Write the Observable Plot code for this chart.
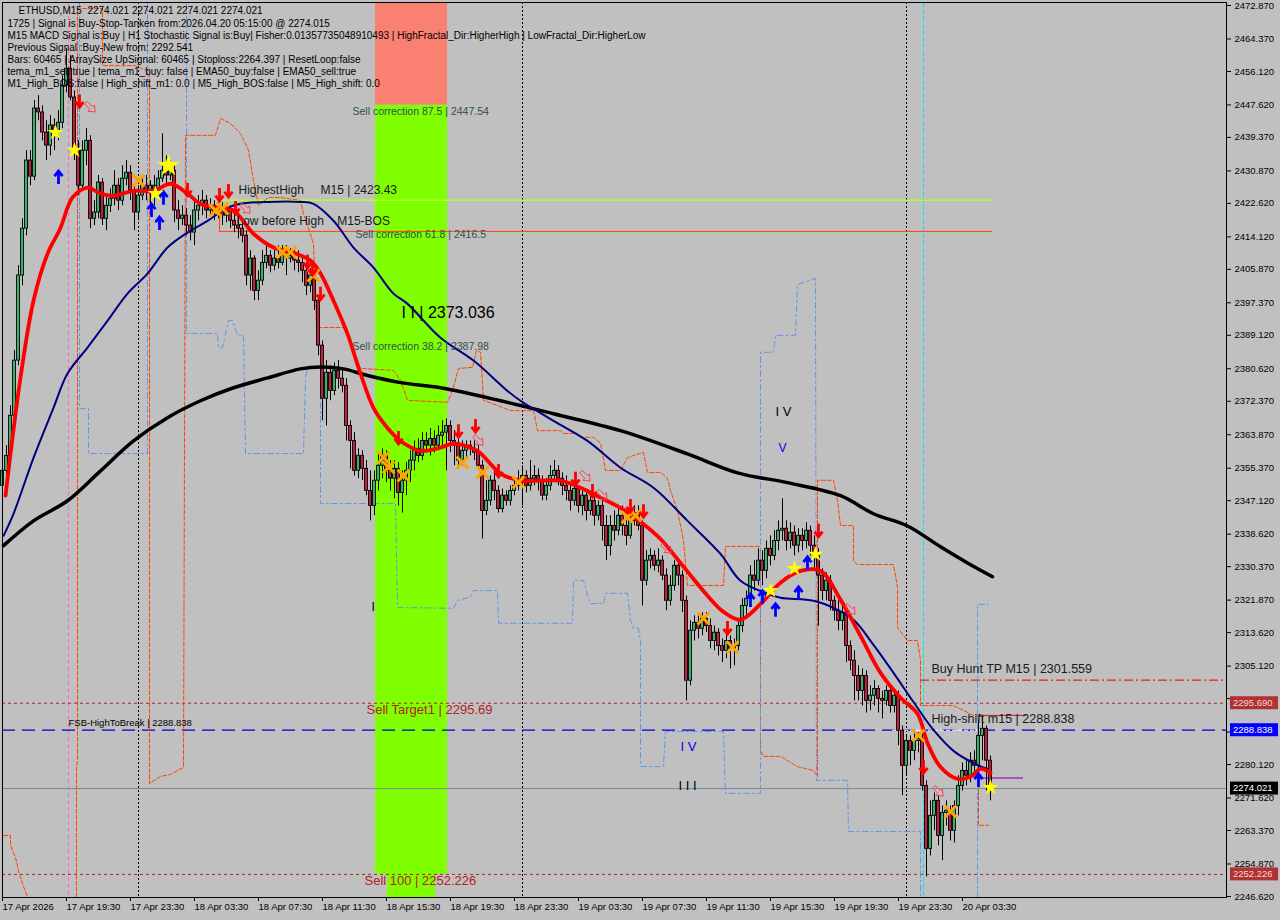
<!DOCTYPE html>
<html>
<head>
<meta charset="utf-8">
<script src="https://cdn.jsdelivr.net/npm/d3@7"></script>
<script src="https://cdn.jsdelivr.net/npm/@observablehq/plot@0.6"></script>
<style>
  html, body { margin: 0; padding: 0; background: #c0c0c0; }
  #chart { width: 1280px; height: 920px; }
</style>
</head>
<body>
<div id="chart"></div>
<script>
// ETHUSD M15 candles, bar index 0 = 17 Apr 2026 15:30, one bar per 15 minutes
const open = [
  2350.9, 2354.7, 2358.5, 2368.7, 2382.7, 2404.3, 2416.2, 2433.5, 2429.4, 2446.7,
  2445.7, 2440.6, 2437.3, 2442.4, 2440.6, 2443.1, 2452.5, 2456.8, 2449.5, 2436.0,
  2427.1, 2436.0, 2438.5, 2418.7, 2420.3, 2427.9, 2418.7, 2422.0, 2423.8, 2427.1,
  2423.3, 2428.9, 2430.4, 2425.9, 2420.3, 2424.6, 2427.1, 2425.9, 2427.1, 2425.9,
  2428.9, 2430.9, 2429.7, 2430.9, 2420.8, 2418.7, 2419.5, 2417.0, 2415.2, 2420.8,
  2422.0, 2423.3, 2420.8, 2422.0, 2420.3, 2421.3, 2419.5, 2420.8, 2418.2, 2417.0,
  2416.2, 2414.4, 2404.3, 2408.6, 2400.4, 2403.0, 2407.5, 2409.3, 2406.8, 2408.6,
  2407.5, 2410.1, 2408.6, 2409.3, 2408.1, 2407.5, 2405.5, 2401.7, 2404.3, 2397.9,
  2386.5, 2373.0, 2379.6, 2375.0, 2380.1, 2378.1, 2376.3, 2366.1, 2362.3, 2354.7,
  2358.5, 2355.2, 2349.6, 2345.8, 2352.2, 2356.0, 2358.5, 2354.7, 2352.7, 2355.2,
  2349.1, 2352.2, 2354.7, 2357.3, 2360.3, 2358.5, 2362.3, 2361.1, 2362.8, 2361.1,
  2363.6, 2364.4, 2366.1, 2362.3, 2361.1, 2357.3, 2359.8, 2361.1, 2360.3, 2359.3,
  2356.0, 2344.5, 2347.1, 2352.2, 2349.6, 2345.0, 2348.4, 2347.1, 2349.6, 2350.9,
  2352.2, 2353.4, 2350.9, 2352.7, 2353.4, 2352.2, 2348.4, 2350.9, 2353.4, 2354.7,
  2352.7, 2350.9, 2349.6, 2347.1, 2350.1, 2345.8, 2348.4, 2344.5, 2347.1, 2343.3,
  2345.8, 2340.7, 2335.6, 2340.7, 2339.5, 2343.3, 2340.7, 2338.2, 2342.0, 2344.0,
  2340.7, 2326.8, 2331.9, 2333.1, 2330.6, 2331.9, 2328.1, 2321.7, 2325.5, 2330.6,
  2328.1, 2321.7, 2301.4, 2314.1, 2316.1, 2314.6, 2317.1, 2315.3, 2311.5, 2313.6,
  2310.2, 2309.0, 2311.5, 2309.5, 2310.2, 2315.3, 2320.4, 2322.2, 2328.1, 2326.8,
  2331.9, 2329.3, 2334.9, 2333.1, 2336.9, 2339.5, 2340.0, 2336.9, 2339.0, 2335.7,
  2338.2, 2336.9, 2339.5, 2335.7, 2333.1, 2328.1, 2324.2, 2326.8, 2321.7, 2319.2,
  2316.6, 2318.7, 2310.2, 2306.5, 2302.6, 2298.8, 2302.6, 2296.3, 2297.6, 2299.3,
  2296.8, 2296.3, 2298.8, 2295.0, 2297.6, 2288.7, 2279.8, 2286.1, 2283.6, 2286.1,
  2286.6, 2274.7, 2258.7, 2267.1, 2270.9, 2262.0, 2267.8, 2268.4, 2263.3, 2269.6,
  2274.7, 2278.5, 2277.3, 2281.1, 2279.8, 2287.4, 2289.2, 2281.1
];
const high = [
  2356.8, 2361.1, 2371.2, 2385.2, 2406.8, 2418.7, 2436.0, 2436.0, 2448.7, 2450.0,
  2447.4, 2443.6, 2444.9, 2444.1, 2446.2, 2455.0, 2461.9, 2460.1, 2451.2, 2438.5,
  2438.5, 2441.6, 2439.8, 2423.3, 2429.7, 2428.9, 2424.6, 2426.3, 2430.9, 2428.9,
  2432.2, 2433.5, 2432.2, 2427.1, 2427.1, 2428.9, 2429.7, 2428.4, 2429.7, 2430.9,
  2440.3, 2434.7, 2433.5, 2432.2, 2423.3, 2422.0, 2421.3, 2419.5, 2423.3, 2424.6,
  2425.9, 2424.6, 2423.8, 2423.3, 2423.3, 2422.8, 2422.0, 2422.0, 2420.3, 2418.7,
  2418.2, 2415.7, 2410.6, 2409.3, 2405.5, 2410.6, 2411.9, 2410.6, 2410.6, 2411.9,
  2411.9, 2411.9, 2411.1, 2411.1, 2410.6, 2409.3, 2407.5, 2406.0, 2405.5, 2399.2,
  2387.7, 2382.7, 2381.4, 2382.1, 2382.7, 2380.6, 2378.1, 2367.4, 2364.4, 2360.3,
  2359.8, 2357.3, 2354.7, 2354.7, 2359.3, 2360.3, 2359.8, 2357.3, 2357.3, 2356.8,
  2354.7, 2356.8, 2359.8, 2362.3, 2362.8, 2364.4, 2364.4, 2365.4, 2364.9, 2366.1,
  2367.4, 2367.9, 2367.4, 2364.9, 2362.8, 2362.3, 2362.3, 2362.3, 2362.3, 2361.1,
  2357.3, 2352.2, 2353.4, 2354.7, 2350.9, 2350.1, 2349.6, 2350.9, 2352.7, 2354.7,
  2356.0, 2354.7, 2357.3, 2356.0, 2355.2, 2353.4, 2352.7, 2356.0, 2357.3, 2356.0,
  2354.2, 2353.4, 2351.7, 2352.2, 2350.9, 2349.6, 2349.6, 2348.4, 2348.4, 2347.1,
  2347.1, 2343.3, 2343.3, 2344.5, 2345.8, 2345.8, 2343.3, 2344.5, 2345.8, 2345.8,
  2342.0, 2334.4, 2334.9, 2334.4, 2334.9, 2333.1, 2329.8, 2328.1, 2331.9, 2331.9,
  2329.3, 2322.9, 2316.6, 2317.9, 2317.9, 2318.7, 2318.7, 2317.1, 2315.3, 2314.6,
  2312.0, 2313.6, 2312.8, 2312.0, 2317.1, 2322.2, 2324.2, 2330.6, 2331.9, 2334.9,
  2334.4, 2336.9, 2338.2, 2339.5, 2342.0, 2347.6, 2342.0, 2341.5, 2340.7, 2340.0,
  2340.0, 2341.5, 2340.7, 2338.2, 2334.9, 2329.8, 2328.8, 2328.1, 2322.9, 2321.7,
  2320.4, 2319.7, 2311.5, 2309.0, 2305.2, 2304.4, 2303.9, 2300.1, 2301.4, 2300.1,
  2298.8, 2300.1, 2300.1, 2298.8, 2298.8, 2289.9, 2287.4, 2287.4, 2288.7, 2288.2,
  2288.2, 2276.0, 2270.9, 2272.9, 2272.2, 2269.6, 2270.9, 2269.6, 2270.9, 2277.3,
  2280.5, 2281.1, 2283.1, 2283.6, 2291.2, 2292.0, 2289.9, 2282.3
];
const low = [
  2347.1, 2352.7, 2356.8, 2367.4, 2381.4, 2401.7, 2414.4, 2427.1, 2428.4, 2443.6,
  2438.5, 2433.5, 2434.7, 2436.0, 2438.5, 2441.6, 2450.7, 2448.7, 2433.5, 2424.6,
  2425.9, 2432.2, 2416.2, 2417.0, 2418.7, 2417.0, 2415.7, 2420.3, 2422.0, 2420.8,
  2422.0, 2427.1, 2423.3, 2415.7, 2418.2, 2423.3, 2423.3, 2420.8, 2422.0, 2423.8,
  2427.9, 2427.1, 2428.4, 2417.7, 2415.7, 2417.0, 2414.4, 2413.1, 2411.9, 2418.2,
  2419.5, 2418.7, 2419.5, 2418.2, 2418.7, 2417.0, 2417.7, 2416.2, 2415.2, 2413.6,
  2412.6, 2401.7, 2400.4, 2397.9, 2397.9, 2401.7, 2406.0, 2405.0, 2405.5, 2406.0,
  2406.8, 2404.3, 2407.5, 2405.5, 2405.0, 2402.5, 2399.2, 2399.9, 2395.4, 2383.9,
  2367.4, 2366.1, 2372.5, 2373.8, 2375.5, 2374.5, 2362.3, 2355.2, 2353.4, 2352.7,
  2352.2, 2348.4, 2342.0, 2343.3, 2349.6, 2352.7, 2351.7, 2349.6, 2347.6, 2345.8,
  2344.0, 2348.4, 2351.7, 2354.7, 2356.8, 2357.3, 2359.3, 2358.5, 2359.3, 2359.8,
  2360.3, 2354.7, 2359.3, 2356.0, 2355.2, 2356.0, 2357.8, 2358.5, 2357.3, 2354.7,
  2337.4, 2343.3, 2345.8, 2347.1, 2344.0, 2344.0, 2345.8, 2345.8, 2348.4, 2349.6,
  2345.8, 2349.1, 2349.6, 2350.9, 2349.6, 2347.1, 2347.1, 2349.6, 2352.2, 2350.9,
  2348.4, 2347.1, 2344.5, 2345.8, 2344.0, 2343.3, 2342.0, 2343.3, 2340.7, 2342.0,
  2336.9, 2331.9, 2333.1, 2336.9, 2338.2, 2338.2, 2335.7, 2337.4, 2340.7, 2339.5,
  2320.4, 2325.5, 2329.8, 2329.3, 2328.8, 2326.8, 2319.2, 2320.4, 2324.2, 2325.5,
  2318.7, 2296.3, 2300.1, 2311.5, 2312.0, 2312.8, 2313.6, 2309.5, 2309.0, 2307.7,
  2306.0, 2307.0, 2304.4, 2305.2, 2309.0, 2313.6, 2317.9, 2320.4, 2324.2, 2325.5,
  2325.5, 2327.3, 2330.6, 2331.9, 2334.4, 2336.9, 2334.4, 2334.9, 2333.1, 2333.9,
  2334.4, 2334.9, 2333.1, 2329.3, 2315.3, 2321.7, 2321.7, 2319.2, 2316.6, 2314.1,
  2314.1, 2306.0, 2303.9, 2296.3, 2296.3, 2295.0, 2293.2, 2293.8, 2295.0, 2293.2,
  2291.7, 2295.0, 2293.2, 2293.2, 2284.9, 2272.2, 2277.3, 2279.8, 2281.1, 2283.1,
  2273.4, 2251.6, 2256.9, 2263.3, 2259.5, 2255.7, 2264.5, 2260.7, 2260.2, 2267.1,
  2273.4, 2274.7, 2275.5, 2277.3, 2278.0, 2281.1, 2273.4, 2270.9
];
const close = [
  2354.7, 2358.5, 2368.7, 2382.7, 2404.3, 2416.2, 2433.5, 2429.4, 2446.7, 2445.7,
  2440.6, 2437.3, 2442.4, 2440.6, 2443.1, 2452.5, 2456.8, 2449.5, 2436.0, 2427.1,
  2436.0, 2438.5, 2418.7, 2420.3, 2427.9, 2418.7, 2422.0, 2423.8, 2427.1, 2423.3,
  2428.9, 2430.4, 2425.9, 2420.3, 2424.6, 2427.1, 2425.9, 2427.1, 2425.9, 2428.9,
  2430.9, 2429.7, 2430.9, 2420.8, 2418.7, 2419.5, 2417.0, 2415.2, 2420.8, 2422.0,
  2423.3, 2420.8, 2422.0, 2420.3, 2421.3, 2419.5, 2420.8, 2418.2, 2417.0, 2416.2,
  2414.4, 2404.3, 2408.6, 2400.4, 2403.0, 2407.5, 2409.3, 2406.8, 2408.6, 2407.5,
  2410.1, 2408.6, 2409.3, 2408.1, 2407.5, 2405.5, 2401.7, 2404.3, 2397.9, 2386.5,
  2373.0, 2379.6, 2375.0, 2380.1, 2378.1, 2376.3, 2366.1, 2362.3, 2354.7, 2358.5,
  2355.2, 2349.6, 2345.8, 2352.2, 2356.0, 2358.5, 2354.7, 2352.7, 2355.2, 2349.1,
  2352.2, 2354.7, 2357.3, 2360.3, 2358.5, 2362.3, 2361.1, 2362.8, 2361.1, 2363.6,
  2364.4, 2366.1, 2362.3, 2361.1, 2357.3, 2359.8, 2361.1, 2360.3, 2359.3, 2356.0,
  2344.5, 2347.1, 2352.2, 2349.6, 2345.0, 2348.4, 2347.1, 2349.6, 2350.9, 2352.2,
  2353.4, 2350.9, 2352.7, 2353.4, 2352.2, 2348.4, 2350.9, 2353.4, 2354.7, 2352.7,
  2350.9, 2349.6, 2347.1, 2350.1, 2345.8, 2348.4, 2344.5, 2347.1, 2343.3, 2345.8,
  2340.7, 2335.6, 2340.7, 2339.5, 2343.3, 2340.7, 2338.2, 2342.0, 2344.0, 2340.7,
  2326.8, 2331.9, 2333.1, 2330.6, 2331.9, 2328.1, 2321.7, 2325.5, 2330.6, 2328.1,
  2321.7, 2301.4, 2314.1, 2316.1, 2314.6, 2317.1, 2315.3, 2311.5, 2313.6, 2310.2,
  2309.0, 2311.5, 2309.5, 2310.2, 2315.3, 2320.4, 2322.2, 2328.1, 2326.8, 2331.9,
  2329.3, 2334.9, 2333.1, 2336.9, 2339.5, 2340.0, 2336.9, 2339.0, 2335.7, 2338.2,
  2336.9, 2339.5, 2335.7, 2333.1, 2328.1, 2324.2, 2326.8, 2321.7, 2319.2, 2316.6,
  2318.7, 2310.2, 2306.5, 2302.6, 2298.8, 2302.6, 2296.3, 2297.6, 2299.3, 2296.8,
  2296.3, 2298.8, 2295.0, 2297.6, 2288.7, 2279.8, 2286.1, 2283.6, 2286.1, 2286.6,
  2274.7, 2258.7, 2267.1, 2270.9, 2262.0, 2267.8, 2268.4, 2263.3, 2269.6, 2274.7,
  2278.5, 2277.3, 2281.1, 2279.8, 2287.4, 2289.2, 2281.1, 2274.021
];

// Axis ticks
const xTickIdx = [0, 16, 32, 48, 64, 80, 96, 112, 128, 144, 160, 176, 192, 208, 224, 240];
const xTickLabels = ["17 Apr 2026", "17 Apr 19:30", "17 Apr 23:30", "18 Apr 03:30", "18 Apr 07:30",
  "18 Apr 11:30", "18 Apr 15:30", "18 Apr 19:30", "18 Apr 23:30", "19 Apr 03:30", "19 Apr 07:30",
  "19 Apr 11:30", "19 Apr 15:30", "19 Apr 19:30", "19 Apr 23:30", "20 Apr 03:30"];
const yTicks = [2472.87, 2464.37, 2456.12, 2447.62, 2439.37, 2430.87, 2422.62, 2414.12, 2405.87,
  2397.37, 2389.12, 2380.62, 2372.37, 2363.87, 2355.37, 2347.12, 2338.62, 2330.37, 2321.87,
  2313.62, 2305.12, 2296.87, 2288.37, 2280.12, 2271.62, 2263.37, 2254.87, 2246.62];
// tick values whose labels sit under a price tag
const yTicksCovered = [2296.87, 2288.37];
const xDomain = [0, 306];
const yDomain = [2246.36, 2473.63];

// Moving averages, sampled as [bar index, price]
const emaFast = [[0.75,2348.4],[4.5,2378.4],[7.75,2397.9],[11.25,2409.8],[14.5,2416.4],[16.25,2421.5],
  [17.5,2424.1],[21.25,2426.6],[24.5,2425.1],[27.75,2424.6],[32.75,2425.8],[37.75,2425.8],[42,2427.6],
  [46.25,2425.1],[49.5,2422.5],[53.75,2421.5],[57.75,2420.8],[62.75,2414.9],[67.75,2411.4],[72.75,2410.1],
  [77,2408.1],[79.5,2404.8],[82.75,2397.9],[86.25,2389.5],[89.5,2379.4],[92.75,2370.7],[96.25,2365.6],
  [99.5,2362.3],[104.5,2359.8],[109.5,2360.6],[112.75,2361.6],[118.75,2359.8],[121.25,2357.3],[124.5,2354.0],
  [129.5,2352.2],[134.5,2352.2],[139.5,2352.2],[144.5,2350.4],[149.5,2347.9],[154.5,2345.3],[159.5,2341.8],
  [164.5,2337.4],[169.5,2331.3],[176.25,2323.0],[180.25,2318.9],[184.5,2316.9],[189.5,2320.9],[194.5,2326.3],
  [199.5,2329.3],[204.5,2329.3],[209.5,2322.0],[214.5,2312.8],[219.5,2303.4],[224.5,2297.1],[228.75,2293.0],
  [231.25,2285.6],[234.5,2279.5],[238.75,2276.5],[242,2277.0],[244.5,2279.0],[247,2278.0]];
const ema50 = [[0.25,2338.2],[2.75,2343.8],[7.75,2358.0],[12.75,2370.7],[16.25,2379.4],[21.25,2386.0],
  [26.25,2392.8],[31.25,2399.7],[36.25,2404.8],[41.25,2411.4],[46.25,2415.2],[51.25,2418.2],[56.25,2421.5],
  [59.5,2422.5],[66.25,2423.0],[74.5,2423.0],[77.75,2422.5],[82.75,2418.2],[87.75,2411.4],[92.75,2406.3],
  [97.75,2399.7],[101.25,2397.1],[109.5,2388.5],[117.75,2382.7],[126.25,2375.0],[129.5,2372.5],[137.75,2367.4],
  [146.25,2362.3],[154.5,2355.5],[162.75,2350.4],[171.25,2342.0],[179.5,2333.6],[184.5,2326.8],[191.25,2323.5],
  [194.5,2322.5],[202.75,2321.7],[207.75,2319.9],[212.75,2316.9],[217.75,2310.5],[222.75,2303.4],[227.75,2296.0],
  [232.75,2288.9],[237.75,2283.6],[242.75,2280.5],[246.25,2279.0]];
const ema200 = [[0.25,2335.7],[7.75,2342.0],[16.25,2347.1],[24.5,2354.7],[32.75,2362.3],[41.25,2368.2],
  [49.5,2372.5],[57.75,2375.8],[66.25,2378.3],[74.5,2380.6],[79.5,2381.1],[85.25,2380.6],[91.25,2378.9],
  [99.5,2377.1],[109.5,2375.8],[124.5,2372.5],[137.75,2369.2],[154.5,2364.9],[171.25,2359.0],[183.75,2354.2],
  [196.25,2351.7],[209.5,2348.4],[217.75,2343.8],[226.25,2340.7],[234.5,2335.4],[241.25,2331.3],[247.5,2327.8]];

// Stepped channel lines (upper: orange, lower: blue), split into segments
const upperChannel = [
  [[0.25,2262.1],[2,2262.1],[2,2259.6],[3.25,2256.5],[4,2253.2],[5,2249.9],[6.25,2246.4]],
  [[18.5,2246.4],[18.5,2279.1],[18.75,2281.2],[18.75,2472.1],[25,2472.1],[25,2457.6],[33.25,2457.6],
   [36.75,2455.9],[36.75,2275.3],[39.5,2277.1],[42,2277.6],[45.25,2279.4],[45.75,2439.9],[53.25,2439.9],
   [54.5,2444.2],[57,2442.9],[59.5,2440.4],[61.5,2436.1],[62.75,2428.4],[64,2422.1],[66.5,2424.1],
   [69.5,2424.1],[74.5,2423.4],[75.25,2420.1],[77.75,2412.4],[78.5,2391.1],[85.25,2391.1],[86.25,2389.1],
   [87.75,2385.3],[89.5,2380.7],[97.75,2380.2],[99.5,2377.7],[101.25,2372.6],[111.25,2372.1],[112.5,2375.1],
   [114,2380.7],[117.5,2381.0],[118.5,2385.3],[119.5,2384.8],[120.25,2372.6],[123.75,2371.3],[127,2370.0],
   [132.75,2370.0],[133.75,2364.9],[139.5,2364.9],[140.25,2364.2],[143.75,2364.2],[144.5,2363.2],
   [147.75,2363.2],[149.5,2361.7],[150.75,2354.8],[154.5,2354.8],[156.25,2358.1],[160.25,2359.4],
   [161.25,2354.3],[164.5,2354.3],[166.25,2352.8],[167,2349.7],[168.75,2344.6],[170.25,2337.0],
   [171.25,2325.6],[180.25,2325.6],[180.75,2335.5],[189.5,2335.5],[189.5,2283.7],[190.25,2282.2],
   [194.5,2282.2],[198.75,2279.6],[202.75,2278.6],[203.75,2277.1],[203.75,2352.3],[207.75,2352.3],
   [208.75,2347.2],[209.5,2340.8],[212.75,2340.8],[212.75,2331.9],[213.75,2330.9],[222.75,2330.9],
   [223.75,2325.1],[223.75,2314.9],[226.25,2311.6],[228.75,2311.6],[229.5,2306.6],[229.5,2295.1],
   [237.75,2295.1],[242.75,2292.6],[244,2292.6],[244,2264.7],[246.5,2264.7]]
];
const lowerChannel = [
  [[19.25,2473.6],[19.25,2370.5],[21.5,2370.5],[21.5,2359.1],[36.25,2359.1],[36.25,2473.6]],
  [[46,2473.6],[46,2389.6],[53.75,2389.6],[54,2386.0],[55,2386.0],[56.5,2392.9],[57.5,2392.9],
   [58.75,2389.1],[60.25,2389.1],[60.75,2359.1],[75.25,2359.1],[75.75,2378.4],[76.25,2380.7],
   [79.5,2380.7],[79.5,2346.4],[98.25,2346.4],[98.75,2320.0],[112.75,2319.8],[113.75,2321.8],
   [117,2322.6],[117.75,2324.3],[123.75,2324.3],[124,2316.0],[142.5,2316.0],[142.75,2326.9],
   [145.25,2326.9],[146.25,2323.1],[147,2321.0],[150.25,2321.0],[150.75,2323.6],[156.25,2323.6],
   [157,2316.7],[157.75,2314.7],[159,2314.7],[159.5,2311.6],[159.5,2279.6],[165.25,2279.6],
   [165.75,2288.5],[180.25,2288.5],[180.75,2272.8],[189.5,2272.8],[189.5,2384.8],[192.75,2384.8],
   [193.25,2389.1],[198.25,2389.1],[198.75,2402.0],[203.25,2403.6],[203.5,2276.1],[211.25,2276.1],
   [211.5,2263.1],[229.5,2263.1],[229.5,2246.4]],
  [[243.75,2246.4],[243.75,2320.8],[246.5,2320.8]]
];

// Signal markers [bar index, price]
const sellArrows = [[19.25,2448.7],[46.25,2426.2],[54.25,2424.9],[56.5,2425.9],[58.25,2421.6],
  [76.25,2407.9],[77.5,2406.1],[79.5,2399.8],[99,2363.2],[114,2364.9],[118.25,2366.2],[124,2354.8],
  [143.25,2352.8],[147.5,2349.7],[157,2345.9],[160.25,2344.6],[181.25,2314.9],[204,2339.6],[230.25,2279.6]];
const buyArrows = [[14,2429.2],[37.25,2420.8],[39.25,2417.5],[40.25,2423.9],[187,2321.8],[190,2322.6],
  [193.25,2319.3],[199,2323.6],[201.25,2331.2],[244,2276.1]];
const starsSmall = [[13.25,2440.6],[18,2436.1],[38.25,2425.1],[192,2324.3],[198,2329.9],[203.25,2333.5],[247,2274.3]];
const starsLarge = [[41.5,2432.2]];
const crosses = [[34,2428.4],[53.25,2420.8],[55,2421.3],[70,2410.2],[72,2410.2],[77.75,2404.3],
  [95.25,2358.1],[96.5,2355.6],[100.25,2353.5],[115,2356.8],[120,2354.3],[129,2351.8],[156.25,2342.9],
  [158.25,2343.4],[175.25,2317.2],[182.5,2309.9],[229,2287.5],[237,2268.2]];
const hollowArrows = [[22,2447.0],[60.75,2421.3],[119,2362.4],[145.75,2353.3],[150,2348.5],[166,2335.0],
  [212,2319.5],[234,2273.3]];

// Zones and levels
const daySeparators = [34, 130, 226];
const zones = [
  {x1: 93.25, x2: 111.25, y1: 2447.54, y2: yDomain[1], fill: "#FA8072"},
  {x1: 93.25, x2: 111.25, y1: 2252.226, y2: 2447.54, fill: "#7FFF00"},
  {x1: 96.25, x2: 108.25, y1: yDomain[0], y2: 2252.226, fill: "#7FFF00"}
];
const levels = [
  {price: 2295.69, from: 0, to: 306, color: "#B22222", dash: "3,3", width: 1},
  {price: 2252.226, from: 0, to: 306, color: "#B22222", dash: "3,3", width: 1},
  {price: 2288.838, from: 0, to: 306, color: "#0000CD", dash: "13,7", width: 1.2},
  {price: 2274.021, from: 0, to: 306, color: "#778899", dash: null, width: 1},
  {price: 2423.43, from: 54.5, to: 247.5, color: "#ADFF2F", dash: null, width: 1.4},
  {price: 2415.5, from: 54.25, to: 247.5, color: "#FF4500", dash: null, width: 1},
  {price: 2301.559, from: 229.5, to: 306, color: "#E00000", dash: "9,3,2,3", width: 1},
  {price: 2288.838, from: 222.5, to: 243.75, color: "#FFFFFF", dash: "4,2", width: 1},
  {price: 2292.6, from: 243.75, to: 256, color: "#B22222", dash: null, width: 1},
  {price: 2276.7, from: 243.75, to: 255.25, color: "#9932CC", dash: null, width: 1.5}
];

const labels = [
  {i: 59, p: 2425.9, text: "HighestHigh\u00a0\u00a0\u00a0\u00a0\u00a0M15 | 2423.43", size: 12, color: "#1a1a1a"},
  {i: 58.5, p: 2418.0, text: "Low before High\u00a0\u00a0\u00a0\u00a0M15-BOS", size: 12, color: "#1a1a1a"},
  {i: 87.5, p: 2445.9, text: "Sell correction 87.5 | 2447.54", size: 10.5, color: "#2F4F4F"},
  {i: 88.25, p: 2414.7, text: "Sell correction 61.8 | 2416.5", size: 10.5, color: "#2F4F4F"},
  {i: 87.5, p: 2386.3, text: "Sell correction 38.2 | 2387.98", size: 10.5, color: "#2F4F4F"},
  {i: 99.75, p: 2394.9, text: "I I | 2373.036", size: 16, color: "#000000"},
  {i: 91, p: 2293.9, text: "Sell Target1 | 2295.69", size: 13, color: "#B22222"},
  {i: 90.5, p: 2250.5, text: "Sell 100 | 2252.226", size: 13, color: "#B22222"},
  {i: 16.5, p: 2290.6, text: "FSB-HighToBreak | 2288.838", size: 9.5, color: "#000000"},
  {i: 232.25, p: 2304.3, text: "Buy Hunt TP M15 | 2301.559", size: 12.5, color: "#1a1a1a"},
  {i: 232.25, p: 2291.6, text: "High-shift m15 | 2288.838", size: 12.5, color: "#1a1a1a"},
  {i: 193.25, p: 2369.8, text: "I V", size: 13, color: "#000000"},
  {i: 194, p: 2360.4, text: "V", size: 12, color: "#0000FF"},
  {i: 169.5, p: 2284.5, text: "I V", size: 13, color: "#0000FF"},
  {i: 169, p: 2274.6, text: "I I I", size: 13, color: "#000000"},
  {i: 92.25, p: 2320.0, text: "I", size: 12, color: "#000000"}
];

const infoLines = [
  "ETHUSD,M15  2274.021 2274.021 2274.021 2274.021",
  "1725 | Signal is Buy-Stop-Tanken from:2026.04.20 05:15:00 @ 2274.015",
  "M15 MACD Signal is:Buy | H1 Stochastic Signal is:Buy| Fisher:0.01357735048910493 | HighFractal_Dir:HigherHigh | LowFractal_Dir:HigherLow",
  "Previous Signal :Buy-New from: 2292.541",
  "Bars: 60465 | ArraySize UpSignal: 60465 | Stoploss:2264.397 | ResetLoop:false",
  "tema_m1_sell:true | tema_m1_buy: false | EMA50_buy:false | EMA50_sell:true",
  "M1_High_BOS:false | High_shift_m1: 0.0 | M5_High_BOS:false | M5_High_shift: 0.0"
];
const infoWidths = [226, 301, 600, 176, 330, 336, 354];

const priceTags = [
  {price: 2295.69, bg: "#B03232", fg: "#F4D8D8"},
  {price: 2288.838, bg: "#0000FF", fg: "#FFFFFF"},
  {price: 2274.021, bg: "#000000", fg: "#FFFFFF"},
  {price: 2252.226, bg: "#B03232", fg: "#F4D8D8"}
];

// Custom marker shapes
const arrowDown = {draw(ctx, size) {
  const r = Math.sqrt(size / Math.PI);
  ctx.moveTo(0, -r); ctx.lineTo(0, r * 0.85);
  ctx.moveTo(-0.62 * r, 0.2 * r); ctx.lineTo(0, r); ctx.lineTo(0.62 * r, 0.2 * r);
}};
const arrowUp = {draw(ctx, size) {
  const r = Math.sqrt(size / Math.PI);
  ctx.moveTo(0, r); ctx.lineTo(0, -r * 0.85);
  ctx.moveTo(-0.62 * r, -0.2 * r); ctx.lineTo(0, -r); ctx.lineTo(0.62 * r, -0.2 * r);
}};
const hollowDiag = {draw(ctx, size) {
  const r = Math.sqrt(size / Math.PI), c = Math.SQRT1_2;
  const pts = [[-1,-0.28],[0.15,-0.28],[0.15,-0.7],[1,0],[0.15,0.7],[0.15,0.28],[-1,0.28]];
  pts.forEach(([x, y], k) => {
    const px = (x - y) * c * r, py = (x + y) * c * r;
    k ? ctx.lineTo(px, py) : ctx.moveTo(px, py);
  });
  ctx.closePath();
}};

const bars = close.map((c, i) => ({i, o: open[i], h: high[i], l: low[i], c}));
const xLabelAt = new Map(xTickIdx.map((v, k) => [v, xTickLabels[k]]));
const px = d => d[0], py = d => d[1];

const chart = Plot.plot({
  width: 1280,
  height: 920,
  marginLeft: 2,
  marginRight: 54,
  marginTop: 2,
  marginBottom: 23,
  x: {domain: xDomain, axis: null},
  y: {domain: yDomain, axis: null},
  style: {background: "#c0c0c0", fontFamily: "'Liberation Sans', Arial, sans-serif", fontSize: "10px", color: "#000"},
  marks: [
    Plot.rect(zones, {x1: "x1", x2: "x2", y1: "y1", y2: "y2", fill: "fill"}),
    Plot.ruleX(daySeparators, {stroke: "#000", strokeDasharray: "2,2"}),
    Plot.ruleX([16.5], {stroke: "#FF69B4", strokeDasharray: "4,3"}),
    Plot.ruleX([230.25], {stroke: "#00E5EE", strokeDasharray: "5,2"}),
    Plot.ruleX([54.25], {y1: 2415.5, y2: 2422.2, stroke: "#FF4500"}),
    ...levels.map(l => Plot.ruleY([l.price], {x1: l.from, x2: l.to, stroke: l.color, strokeWidth: l.width, strokeDasharray: l.dash})),
    ...upperChannel.map(seg => Plot.line(seg, {x: px, y: py, stroke: "#FF4500", strokeWidth: 1, strokeDasharray: "4,2"})),
    ...lowerChannel.map(seg => Plot.line(seg, {x: px, y: py, stroke: "#6495ED", strokeWidth: 1, strokeDasharray: "6,3,2,3"})),
    // candles
    Plot.ruleX(bars, {x: "i", y1: "l", y2: "h", stroke: "#000", strokeWidth: 1}),
    Plot.rect(bars, {x1: d => d.i - 0.36, x2: d => d.i + 0.36, y1: "o", y2: "c",
      fill: d => d.c >= d.o ? "#3CB371" : "#C0203C", stroke: "#000", strokeWidth: 0.9}),
    // moving averages
    Plot.line(ema200, {x: px, y: py, curve: "catmull-rom", stroke: "#000", strokeWidth: 3.5}),
    Plot.line(ema50, {x: px, y: py, curve: "catmull-rom", stroke: "#000080", strokeWidth: 2}),
    Plot.line(emaFast, {x: px, y: py, curve: "catmull-rom", stroke: "#FF0000", strokeWidth: 3.8}),
    // signals
    Plot.dot(hollowArrows, {x: px, y: py, symbol: hollowDiag, r: 6.5, fill: "none", stroke: "#FF3C50", strokeWidth: 1}),
    Plot.dot(crosses, {x: px, y: py, symbol: d3.symbolTimes, r: 5.5, fill: "none", stroke: "#FFA500", strokeWidth: 3}),
    Plot.dot(sellArrows, {x: px, y: py, symbol: arrowDown, r: 6.5, fill: "none", stroke: "#FF0000", strokeWidth: 2.8}),
    Plot.dot(buyArrows, {x: px, y: py, symbol: arrowUp, r: 6.5, fill: "none", stroke: "#0000FF", strokeWidth: 2.8}),
    Plot.dot(starsSmall, {x: px, y: py, symbol: d3.symbolStar, r: 5, fill: "#FFFF00", stroke: "none"}),
    Plot.dot(starsLarge, {x: px, y: py, symbol: d3.symbolStar, r: 7, fill: "#FFFF00", stroke: "none"}),
    // annotations
    ...labels.map(l => Plot.text([l], {x: "i", y: "p", text: "text", fontSize: l.size, fill: l.color,
      textAnchor: "start", lineAnchor: "middle"})),
    ...infoLines.map((t, k) => Plot.text([t], {frameAnchor: "top-left", text: d => d,
      dx: k === 0 ? 16 : 5, dy: [8, 21, 33, 45, 57, 69, 81][k], fontSize: 10, fill: "#000",
      textAnchor: "start", lineAnchor: "middle", ariaLabel: "info"})),
    // axes and frame
    Plot.axisX({anchor: "bottom", ticks: xTickIdx, tickFormat: d => xLabelAt.get(d), tickSize: 4,
      tickPadding: 2, textAnchor: "start", fontSize: 9.5}),
    Plot.axisY({anchor: "right", ticks: yTicks, tickSize: 4, tickPadding: 4, fontSize: 9.5,
      tickFormat: d => yTicksCovered.includes(d) ? "" : d.toFixed(3)}),
    Plot.frame({stroke: "#000"})
  ]
});

document.getElementById("chart").appendChild(chart);

// fit the info lines to their measured widths
const svg = d3.select(chart);
svg.selectAll('g[aria-label="info"] text').each(function(_, k) {
  this.setAttribute("textLength", infoWidths[k]);
  this.setAttribute("lengthAdjust", "spacingAndGlyphs");
});

// coloured price tags on the price axis
const yScale = chart.scale("y");
const tagLayer = svg.append("g").attr("font-size", 9.5).attr("text-anchor", "start");
for (const t of priceTags) {
  const ty = yScale.apply(t.price);
  tagLayer.append("rect").attr("x", 1230).attr("y", ty - 6.5).attr("width", 48).attr("height", 13).attr("fill", t.bg);
  tagLayer.append("text").attr("x", 1233).attr("y", ty).attr("dy", "0.35em").attr("fill", t.fg).text(t.price.toFixed(3));
}
</script>
</body>
</html>
